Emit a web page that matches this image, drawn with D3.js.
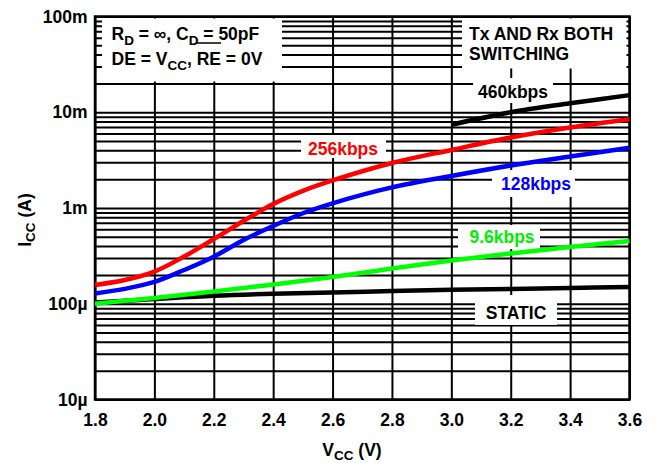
<!DOCTYPE html>
<html>
<head>
<meta charset="utf-8">
<script src="https://cdn.jsdelivr.net/npm/d3@7/dist/d3.min.js"></script>
<style>
  html, body { margin: 0; padding: 0; background: #fff; }
  svg { display: block; }
  text { font-family: "Liberation Sans", Arial, Helvetica, sans-serif; font-weight: bold; }
</style>
</head>
<body>
<div id="chart"></div>
<script>
// ---------------- DATA ----------------
const xTickValues = [1.8, 2.0, 2.2, 2.4, 2.6, 2.8, 3.0, 3.2, 3.4, 3.6];
const yDecades = [1e-5, 1e-4, 1e-3, 1e-2, 1e-1];
const yDecadeLabels = ["10µ", "100µ", "1m", "10m", "100m"];

const vccFine = [1.8, 1.9, 2.0, 2.1, 2.2, 2.3, 2.4, 2.5, 2.6, 2.8, 3.0, 3.2, 3.4, 3.6];
const vccCoarse = [1.8, 2.0, 2.2, 2.4, 2.6, 2.8, 3.0, 3.2, 3.4, 3.6];
const vcc460 = [3.0, 3.2, 3.4, 3.6];

const icc256 = [157e-6, 177e-6, 217e-6, 311e-6, 474e-6, 731e-6, 1.10e-3, 1.51e-3, 1.94e-3, 2.95e-3, 4.04e-3, 5.45e-3, 6.93e-3, 8.44e-3];
const icc128 = [128e-6, 143e-6, 169e-6, 225e-6, 310e-6, 463e-6, 649e-6, 881e-6, 1.12e-3, 1.64e-3, 2.16e-3, 2.78e-3, 3.45e-3, 4.26e-3];
const icc9k6 = [100e-6, 115e-6, 134e-6, 159e-6, 190e-6, 233e-6, 283e-6, 335e-6, 392e-6, 452e-6];
const iccStatic = [103e-6, 112e-6, 121e-6, 127e-6, 131e-6, 136e-6, 140e-6, 143e-6, 146e-6, 150e-6];
const icc460 = [7.4e-3, 10.0e-3, 12.4e-3, 15.1e-3];

const seriesNames = ["460kbps", "256kbps", "128kbps", "9.6kbps", "STATIC"];

// ---------------- LAYOUT ----------------
const W = 660, H = 463;
const X0 = 95, X1 = 629.5, Y0 = 399.5, Y1 = 16.5;
const FONT = 17.5;

const svg = d3.select("#chart").append("svg").attr("width", W).attr("height", H);

const x = d3.scaleLinear().domain([1.8, 3.6]).range([X0, X1]);
const y = d3.scaleLog().domain([1e-5, 1e-1]).range([Y0, Y1]);

// all log grid values
const gridVals = [];
for (let e = -5; e <= -1; e++) {
  const base = Math.pow(10, e);
  for (let m = 1; m <= 9; m++) {
    const v = m * base;
    if (v <= 0.1 * 1.0001) gridVals.push(v);
  }
}

// X axis + vertical grid
const gx = svg.append("g").attr("transform", `translate(0,${Y0})`)
  .call(d3.axisBottom(x).tickValues(xTickValues).tickSize(-(Y0 - Y1)).tickPadding(14)
    .tickFormat(d3.format(".1f")));
gx.select(".domain").remove();
gx.selectAll(".tick line").attr("stroke", "#000").attr("stroke-width", 2);
gx.selectAll(".tick text").attr("fill", "#000").attr("font-size", FONT)
  .style("font-family", '"Liberation Sans", Arial, sans-serif').style("font-weight", "bold");

// Y axis + horizontal grid
const labelFor = v => {
  const i = yDecades.findIndex(d => Math.abs(d - v) / d < 1e-6);
  return i >= 0 ? yDecadeLabels[i] : "";
};
const gy = svg.append("g").attr("transform", `translate(${X0},0)`)
  .call(d3.axisLeft(y).tickValues(gridVals).tickSize(-(X1 - X0)).tickPadding(7.5).tickFormat(labelFor));
gy.select(".domain").remove();
gy.selectAll(".tick line").attr("stroke", "#000").attr("stroke-width", 2);
gy.selectAll(".tick text").attr("fill", "#000").attr("font-size", FONT)
  .style("font-family", '"Liberation Sans", Arial, sans-serif').style("font-weight", "bold");

// frame
svg.append("rect").attr("x", X0).attr("y", Y1).attr("width", X1 - X0).attr("height", Y0 - Y1)
  .attr("fill", "none").attr("stroke", "#000").attr("stroke-width", 2.5);

// white annotation boxes (hide grid beneath labels)
const boxes = [
  { x: 102, y: 18.5, w: 180, h: 63 },     // conditions
  { x: 462, y: 18.5, w: 164.5, h: 50 },   // Tx AND Rx
  { x: 473, y: 78, w: 80, h: 25 },        // 460kbps
  { x: 301, y: 135, w: 85, h: 23 },       // 256kbps
  { x: 492, y: 170, w: 83, h: 27 },       // 128kbps
  { x: 458, y: 225, w: 82, h: 24 },       // 9.6kbps
  { x: 475, y: 295, w: 82, h: 30 }        // STATIC
];
svg.append("g").selectAll("rect").data(boxes).join("rect")
  .attr("x", d => d.x).attr("y", d => d.y).attr("width", d => d.w).attr("height", d => d.h)
  .attr("fill", "#fff");

// curves
const line = d3.line().x(d => x(d[0])).y(d => y(d[1])).curve(d3.curveCatmullRom.alpha(0.5));
const series = [
  { v: vccCoarse, i: iccStatic, color: "#000000" },
  { v: vccCoarse, i: icc9k6, color: "#00ff00" },
  { v: vccFine, i: icc128, color: "#0000ff" },
  { v: vccFine, i: icc256, color: "#ff0000" },
  { v: vcc460, i: icc460, color: "#000000" }
];
svg.append("g").selectAll("path").data(series).join("path")
  .attr("d", s => line(s.v.map((v, k) => [v, s.i[k]])))
  .attr("fill", "none").attr("stroke", s => s.color).attr("stroke-width", 4.5)
  .attr("stroke-linecap", "butt");

// series labels
const seriesLabels = [
  { t: seriesNames[0], x: 513, y: 97.5, c: "#000" },
  { t: seriesNames[1], x: 343, y: 155, c: "#ff0000" },
  { t: seriesNames[2], x: 536, y: 190, c: "#0000ff" },
  { t: seriesNames[3], x: 502, y: 243, c: "#00ee00" },
  { t: seriesNames[4], x: 516, y: 318.5, c: "#000" }
];
svg.append("g").selectAll("text").data(seriesLabels).join("text")
  .attr("x", d => d.x).attr("y", d => d.y).attr("text-anchor", "middle")
  .attr("font-size", FONT).attr("fill", d => d.c).text(d => d.t);

// Tx AND Rx BOTH SWITCHING
svg.append("text").attr("x", 469).attr("y", 39.5).attr("font-size", FONT).text("Tx AND Rx BOTH");
svg.append("text").attr("x", 469).attr("y", 59.5).attr("font-size", FONT).text("SWITCHING");

// conditions text
const SUB = 13.5;
const t1 = svg.append("text").attr("x", 111.5).attr("y", 39.5).attr("font-size", FONT);
t1.append("tspan").text("R");
t1.append("tspan").attr("font-size", SUB).attr("dy", 5).text("D");
t1.append("tspan").attr("dy", -5).text(" = ∞, C");
t1.append("tspan").attr("font-size", SUB).attr("dy", 5).text("D");
t1.append("tspan").attr("dy", -5).text(" = 50pF");

const t2 = svg.append("text").attr("x", 111.5).attr("y", 65).attr("font-size", FONT);
t2.append("tspan").text("DE = V");
t2.append("tspan").attr("font-size", SUB).attr("dy", 5).text("CC");
t2.append("tspan").attr("dy", -5).text(", ");
const re = t2.append("tspan").text("RE");
t2.append("tspan").text(" = 0V");
// overline on RE
try {
  const n = re.node();
  const sx = n.getStartPositionOfChar(0).x;
  const ex = n.getEndPositionOfChar(1).x;
  svg.append("line").attr("x1", sx).attr("x2", ex).attr("y1", 43).attr("y2", 43)
    .attr("stroke", "#000").attr("stroke-width", 1.5);
} catch (e) {}

// axis titles
const xt = svg.append("text").attr("x", 352).attr("y", 456).attr("text-anchor", "middle").attr("font-size", FONT);
xt.append("tspan").text("V");
xt.append("tspan").attr("font-size", SUB).attr("dy", 4).text("CC");
xt.append("tspan").attr("dy", -4).text(" (V)");

const yt = svg.append("text").attr("transform", "translate(31,220) rotate(-90)")
  .attr("text-anchor", "middle").attr("font-size", FONT);
yt.append("tspan").text("I");
yt.append("tspan").attr("font-size", SUB).attr("dy", 4).text("CC");
yt.append("tspan").attr("dy", -4).text(" (A)");
</script>
</body>
</html>
